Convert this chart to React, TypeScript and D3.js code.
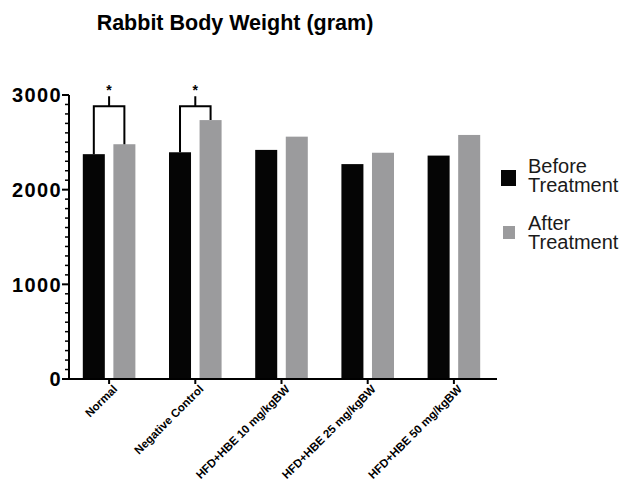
import React, { useRef, useEffect } from "react";
import * as d3 from "d3";

const groups = [
  "Normal",
  "Negative Control",
  "HFD+HBE 10 mg/kgBW",
  "HFD+HBE 25 mg/kgBW",
  "HFD+HBE 50 mg/kgBW",
];
const seriesNames = ["Before Treatment", "After Treatment"];
const beforeValues = [2375, 2395, 2420, 2270, 2360];
const afterValues = [2480, 2735, 2560, 2390, 2578];
const yTicks = [0, 1000, 2000, 3000];
// significance brackets: group index and bracket height
const sigGroups = [0, 1];
const sigLevel = 2880;

const FONT = "Arial, 'Liberation Sans', sans-serif";

const App = () => {
  const svgRef = useRef<SVGSVGElement>(null);

  useEffect(() => {
    const svg = d3.select(svgRef.current);
    svg.selectAll("*").remove();

    const colors = ["#050505", "#9b9b9d"];

    const x0 = d3.scaleBand().domain(groups).range([66, 497]).padding(0);
    const bw = x0.bandwidth();
    const x1 = d3
      .scaleBand()
      .domain(seriesNames)
      .range([bw * 0.195, bw * 0.805])
      .paddingInner(0.28);

    const y = d3.scaleLinear().domain([0, 3000]).range([379, 95]);

    // title
    svg
      .append("text")
      .attr("x", 235)
      .attr("y", 30)
      .attr("text-anchor", "middle")
      .style("font-family", FONT)
      .style("font-weight", "bold")
      .style("font-size", "21.5px")
      .text("Rabbit Body Weight (gram)");

    // bars
    const rows = groups.map((g, i) => ({
      group: g,
      vals: [beforeValues[i], afterValues[i]],
    }));
    const g = svg
      .selectAll(".grp")
      .data(rows)
      .enter()
      .append("g")
      .attr("transform", (d) => `translate(${x0(d.group)},0)`);
    g.selectAll("rect")
      .data((d) => d.vals.map((v, k) => ({ v, k })))
      .enter()
      .append("rect")
      .attr("x", (d) => x1(seriesNames[d.k]) as number)
      .attr("width", x1.bandwidth())
      .attr("y", (d) => y(d.v))
      .attr("height", (d) => y(0) - y(d.v))
      .attr("fill", (d) => colors[d.k]);

    // y axis
    const yAxis = svg.append("g").attr("transform", "translate(69,0)");
    yAxis
      .append("line")
      .attr("y1", y(0))
      .attr("y2", y(3000))
      .attr("stroke", "#000")
      .attr("stroke-width", 2);
    const minor = d3.range(100, 3000, 100).filter((v) => v % 1000 !== 0);
    yAxis
      .selectAll(".minor")
      .data(minor)
      .enter()
      .append("line")
      .attr("x1", -4)
      .attr("x2", 0)
      .attr("y1", (d) => y(d))
      .attr("y2", (d) => y(d))
      .attr("stroke", "#000")
      .attr("stroke-width", 1.5);
    yAxis
      .selectAll(".major")
      .data(yTicks)
      .enter()
      .append("line")
      .attr("x1", -7)
      .attr("x2", 0)
      .attr("y1", (d) => y(d))
      .attr("y2", (d) => y(d))
      .attr("stroke", "#000")
      .attr("stroke-width", 2);
    yAxis
      .selectAll(".lbl")
      .data(yTicks)
      .enter()
      .append("text")
      .attr("x", -7)
      .attr("y", (d) => y(d))
      .attr("dy", "0.36em")
      .attr("text-anchor", "end")
      .style("font-family", FONT)
      .style("font-weight", "bold")
      .style("font-size", "20px")
      .style("letter-spacing", "1.4px")
      .text((d) => d);

    // x axis
    svg
      .append("line")
      .attr("x1", 68)
      .attr("x2", 497)
      .attr("y1", y(0))
      .attr("y2", y(0))
      .attr("stroke", "#000")
      .attr("stroke-width", 2);
    const xt = svg
      .selectAll(".xt")
      .data(groups)
      .enter()
      .append("g")
      .attr("transform", (d) => `translate(${(x0(d) as number) + bw / 2},${y(0)})`);
    xt.append("line")
      .attr("y1", 0)
      .attr("y2", 5)
      .attr("stroke", "#000")
      .attr("stroke-width", 2);
    xt.append("text")
      .attr("transform", "translate(6,8) rotate(-45)")
      .attr("text-anchor", "end")
      .attr("dy", "0.35em")
      .style("font-family", FONT)
      .style("font-weight", "bold")
      .style("font-size", "11.5px")
      .text((d) => d);

    // significance brackets
    sigGroups.forEach((gi) => {
      const gx = x0(groups[gi]) as number;
      const xa = gx + (x1(seriesNames[0]) as number) + x1.bandwidth() / 2;
      const xb = gx + (x1(seriesNames[1]) as number) + x1.bandwidth() / 2;
      const top = y(sigLevel);
      const path = d3.path();
      path.moveTo(xa, y(beforeValues[gi]));
      path.lineTo(xa, top);
      path.lineTo(xb, top);
      path.lineTo(xb, y(afterValues[gi]));
      path.moveTo((xa + xb) / 2, top);
      path.lineTo((xa + xb) / 2, top - 10);
      svg
        .append("path")
        .attr("d", path.toString())
        .attr("fill", "none")
        .attr("stroke", "#000")
        .attr("stroke-width", 2);
      svg
        .append("text")
        .attr("x", (xa + xb) / 2)
        .attr("y", top - 11)
        .attr("text-anchor", "middle")
        .style("font-family", FONT)
        .style("font-weight", "bold")
        .style("font-size", "14px")
        .text("*");
    });

    // legend
    const legend = svg
      .selectAll(".leg")
      .data(seriesNames)
      .enter()
      .append("g")
      .attr("transform", (d, i) => `translate(501,${170 + i * 57})`);
    legend
      .append("rect")
      .attr("x", (d, i) => (i === 0 ? 0 : 2))
      .attr("y", (d, i) => (i === 0 ? 0 : -1))
      .attr("width", (d, i) => (i === 0 ? 15 : 12))
      .attr("height", (d, i) => (i === 0 ? 16 : 13))
      .attr("fill", (d, i) => colors[i]);
    legend
      .append("text")
      .attr("x", 27)
      .attr("y", 3)
      .style("font-family", FONT)
      .style("font-size", "20px")
      .style("fill", "#1a1a1a")
      .text((d) => d.split(" ")[0]);
    legend
      .append("text")
      .attr("x", 27)
      .attr("y", 22)
      .style("font-family", FONT)
      .style("font-size", "20px")
      .style("fill", "#1a1a1a")
      .text((d) => d.split(" ")[1]);
  }, []);

  return (
    <svg
      ref={svgRef}
      width={624}
      height={484}
      style={{ position: "absolute", left: 0, top: 0, background: "#fff" }}
    ></svg>
  );
};

export default App;
